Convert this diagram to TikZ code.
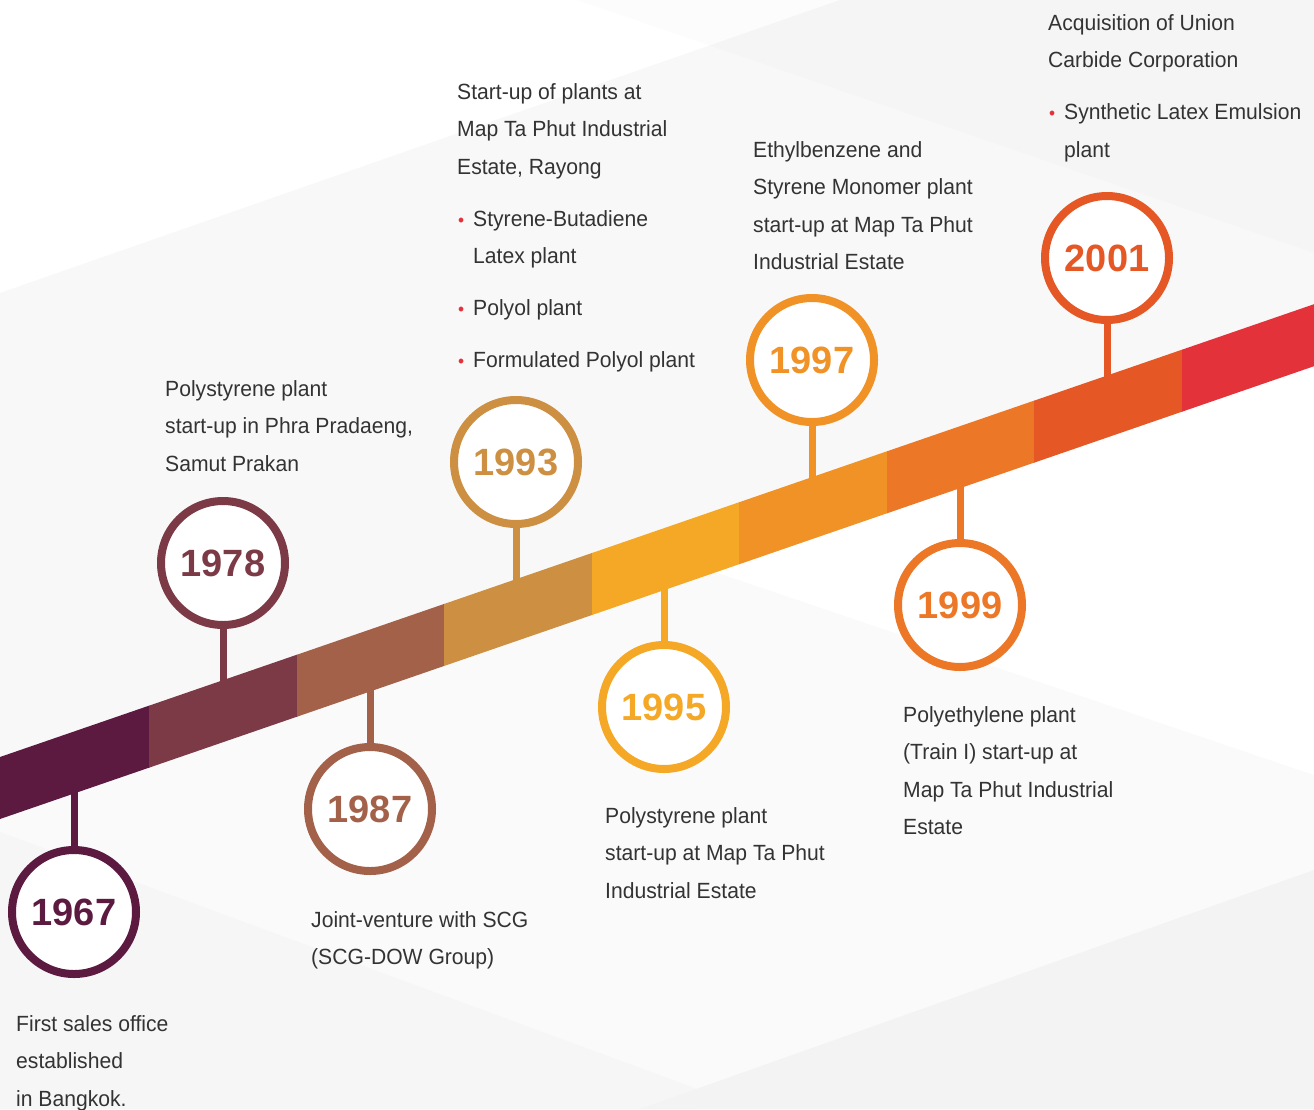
\documentclass[tikz,border=0pt]{standalone}
\usepackage{fontspec}
\setmainfont{Liberation Sans}
\newfontfamily\bodyfont[FakeStretch=0.96]{Liberation Sans}
\definecolor{ca}{HTML}{5C1A41}
\definecolor{cb}{HTML}{7B3A45}
\definecolor{cc}{HTML}{A3614A}
\definecolor{cd}{HTML}{CD8F41}
\definecolor{ce}{HTML}{F5A825}
\definecolor{cf}{HTML}{F09226}
\definecolor{cg}{HTML}{EC7727}
\definecolor{ch}{HTML}{E65726}
\definecolor{ci}{HTML}{E3323A}
\definecolor{txt}{HTML}{333333}
\definecolor{bgA}{HTML}{F8F8F8}
\definecolor{bgB}{HTML}{FAFAFA}
\definecolor{bgC}{HTML}{F6F6F6}
\definecolor{bgD}{HTML}{F3F3F3}
\newcommand{\bul}{\makebox[16pt][l]{\hspace*{1pt}\textcolor{ci}{\fontsize{18}{18}\selectfont •}}}
\newcommand{\ind}{\hspace*{16pt}}
\tikzset{
  yearcirc/.style={circle, draw=#1, line width=8pt, fill=white, minimum size=124pt,
    inner sep=0pt, text=#1, font=\fontsize{38}{38}\selectfont\bfseries},
  stemline/.style={line width=7pt, draw=#1},
  desc/.style={anchor=north west, inner sep=0pt, align=left,
    font=\bodyfont\fontsize{22}{37.5}\selectfont, text=txt},
}
\begin{document}
\begin{tikzpicture}[x=1pt,y=-1pt]
\useasboundingbox (0,0) rectangle (1314,1109);
\clip (0,0) rectangle (1314,1109);
% background
\fill[white] (0,0) rectangle (1314,1109);
\fill[bgA] (0,293) -- (840,0) -- (1314,0) -- (1314,305) -- (0,758) -- cycle;
\fill[black, opacity=0.012] (577,0) -- (1314,253) -- (1314,0) -- cycle;
\fill[bgB] (0,818) -- (1314,365) -- (1314,1109) -- (0,1109) -- cycle;
\fill[white] (715,572) -- (1314,365) -- (1314,775) -- cycle;
\fill[bgC] (0,832) -- (700,1090) -- (700,1109) -- (0,1109) -- cycle;
\fill[bgD] (640,1109) -- (1314,870) -- (1314,1109) -- cycle;

% band coordinates for stems
\coordinate (b1967) at (74,762.5);
\coordinate (b1978) at (223,711.2);
\coordinate (b1987) at (370,660.5);
\coordinate (b1993) at (516,610.2);
\coordinate (b1995) at (664,559.2);
\coordinate (b1997) at (812,508.2);
\coordinate (b1999) at (960,457.2);
\coordinate (b2001) at (1107,406.5);

% circles
\node[yearcirc=ca] (c1967) at (74,912) {1967};
\node[yearcirc=cb] (c1978) at (223,563) {1978};
\node[yearcirc=cc] (c1987) at (370,809) {1987};
\node[yearcirc=cd] (c1993) at (516,462) {1993};
\node[yearcirc=ce] (c1995) at (664,707) {1995};
\node[yearcirc=cf] (c1997) at (812,360) {1997};
\node[yearcirc=cg] (c1999) at (960,605) {1999};
\node[yearcirc=ch] (c2001) at (1107,258) {2001};

% stems
\draw[stemline=ca] (c1967) -- (b1967);
\draw[stemline=cb] (c1978) -- (b1978);
\draw[stemline=cc] (c1987) -- (b1987);
\draw[stemline=cd] (c1993) -- (b1993);
\draw[stemline=ce] (c1995) -- (b1995);
\draw[stemline=cf] (c1997) -- (b1997);
\draw[stemline=cg] (c1999) -- (b1999);
\draw[stemline=ch] (c2001) -- (b2001);

% band
\fill[ca] (0,757) -- (149.5,705.5) -- (149.5,767.5) -- (0,819) -- cycle;
\fill[cb] (149,705.7) -- (297.5,654.5) -- (297.5,716.5) -- (149,767.7) -- cycle;
\fill[cc] (297,654.7) -- (444.5,603.8) -- (444.5,665.8) -- (297,716.7) -- cycle;
\fill[cd] (444,604) -- (592.5,552.8) -- (592.5,614.8) -- (444,666) -- cycle;
\fill[ce] (592,553) -- (739.5,502.1) -- (739.5,564.1) -- (592,615) -- cycle;
\fill[cf] (739,502.3) -- (887.5,451.1) -- (887.5,513.1) -- (739,564.3) -- cycle;
\fill[cg] (887,451.3) -- (1034.5,400.5) -- (1034.5,462.5) -- (887,513.3) -- cycle;
\fill[ch] (1034,400.7) -- (1182.5,349.5) -- (1182.5,411.5) -- (1034,462.7) -- cycle;
\fill[ci] (1182,349.7) -- (1314,304.2) -- (1314,366.2) -- (1182,411.7) -- cycle;

% texts
\node[desc] (t1967) at (16,1015) {First sales office\\established\\in Bangkok.};
\node[desc] (t1978) at (165,380) {Polystyrene plant\\start-up in Phra Pradaeng,\\Samut Prakan};
\node[desc] (t1987) at (311,911) {Joint-venture with SCG\\(SCG-DOW Group)};
\node[desc] (t1993) at (457,83) {Start-up of plants at\\Map Ta Phut Industrial\\Estate, Rayong\\[14.5pt]
  \bul Styrene-Butadiene\\\ind Latex plant\\[14.5pt]\bul Polyol plant\\[14.5pt]\bul Formulated Polyol plant};
\node[desc] (t1995) at (605,807) {Polystyrene plant\\start-up at Map Ta Phut\\Industrial Estate};
\node[desc] (t1997) at (753,141) {Ethylbenzene and\\Styrene Monomer plant\\start-up at Map Ta Phut\\Industrial Estate};
\node[desc] (t1999) at (903,706) {Polyethylene plant\\(Train I) start-up at\\Map Ta Phut Industrial\\Estate};
\node[desc] (t2001) at (1048,14) {Acquisition of Union\\Carbide Corporation\\[14.5pt]\bul Synthetic Latex Emulsion\\\ind plant};
\end{tikzpicture}
\end{document}
